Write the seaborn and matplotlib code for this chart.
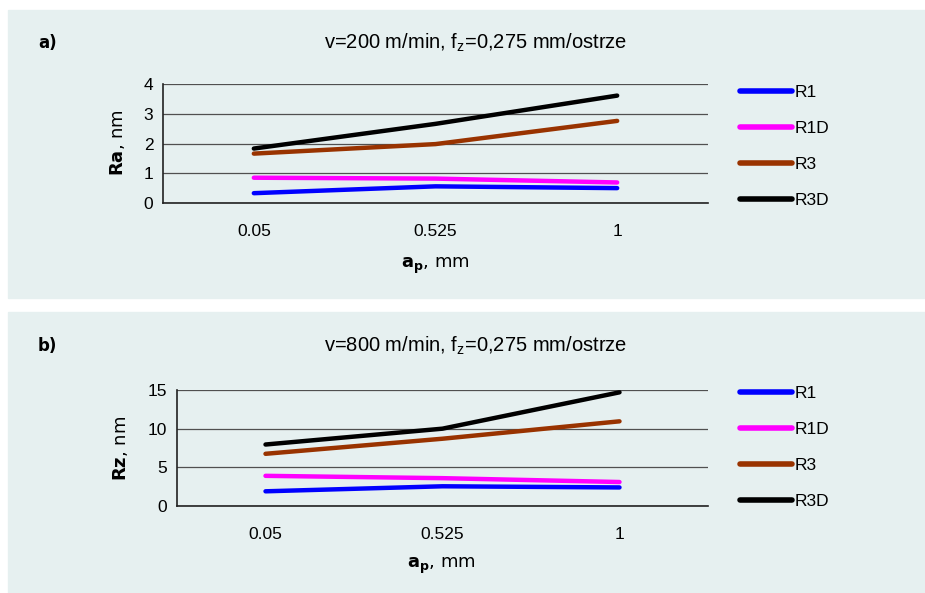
import pandas as pd
import matplotlib
matplotlib.use("Agg")
import matplotlib.pyplot as plt
import seaborn as sns
from matplotlib.patches import Rectangle
from matplotlib.ticker import FixedLocator

# dane
ap_labels = ["0.05", "0.525", "1"]
series = ["R1", "R1D", "R3", "R3D"]

ra_r1 = [0.33, 0.56, 0.50]
ra_r1d = [0.85, 0.82, 0.69]
ra_r3 = [1.66, 1.98, 2.76]
ra_r3d = [1.83, 2.66, 3.61]

rz_r1 = [1.9, 2.55, 2.4]
rz_r1d = [3.9, 3.6, 3.1]
rz_r3 = [6.75, 8.7, 10.95]
rz_r3d = [7.95, 10.0, 14.7]

colors = ["#0000FF", "#FF00FF", "#993300", "#000000"]
bg = "#E6F0F0"


def make_df(vals):
    rows = []
    for name, v in zip(series, vals):
        for lab, y in zip(ap_labels, v):
            rows.append({"ap": lab, "val": y, "seria": name})
    return pd.DataFrame(rows)


sns.set_style("white")
plt.rcParams["font.family"] = ["Liberation Sans", "DejaVu Sans"]
plt.rcParams["text.color"] = "black"
plt.rcParams["xtick.color"] = "black"
plt.rcParams["ytick.color"] = "black"
plt.rcParams["mathtext.fontset"] = "dejavusans"

fig = plt.figure(figsize=(9.25, 5.93), dpi=100)
fig.patches.append(Rectangle((8 / 925, 1 - 298 / 593), 1, 288 / 593,
                             transform=fig.transFigure, color=bg, zorder=-10))
fig.patches.append(Rectangle((8 / 925, 0), 1, 1 - 312 / 593,
                             transform=fig.transFigure, color=bg, zorder=-10))

panels = [
    dict(rect=[163 / 925, 1 - 203 / 593, 545 / 925, 119 / 593],
         df=make_df([ra_r1, ra_r1d, ra_r3, ra_r3d]), ylim=(0, 4), yt=[0, 1, 2, 3, 4],
         ylab=r"$\mathbf{Ra}$, nm", tag="a)", title_v="200",
         tag_y=43, xl_y=266, xl_x=435, yl_x=117, yl_y=143, leg_top=69),
    dict(rect=[177 / 925, 1 - 506 / 593, 531 / 925, 116 / 593],
         df=make_df([rz_r1, rz_r1d, rz_r3, rz_r3d]), ylim=(0, 15), yt=[0, 5, 10, 15],
         ylab=r"$\mathbf{Rz}$, nm", tag="b)", title_v="800",
         tag_y=346, xl_y=566, xl_x=441, yl_x=120, yl_y=448, leg_top=370),
]

for p in panels:
    ax = fig.add_axes(p["rect"])
    ax.set_facecolor("none")
    sns.lineplot(data=p["df"], x="ap", y="val", hue="seria", palette=colors,
                 linewidth=3.2, sort=False, ax=ax, legend=True)
    ax.set_xlim(-0.5, 2.5)
    ax.set_ylim(*p["ylim"])
    ax.set_yticks(p["yt"])
    ax.set_xticks([0, 1, 2])
    ax.set_xticklabels(ap_labels)
    ax.xaxis.set_minor_locator(FixedLocator([-0.5, 0.5, 1.5, 2.5]))
    ax.tick_params(axis="x", which="major", length=0, pad=15, labelsize=12.5)
    ax.tick_params(axis="x", which="minor", length=6, width=1, color="#222222", direction="out")
    ax.tick_params(axis="y", length=4, width=1, color="#222222", labelsize=12.5, pad=3)
    ax.grid(axis="y", color="#505050", linewidth=0.9)
    ax.set_axisbelow(True)
    for s in ["top", "right"]:
        ax.spines[s].set_visible(False)
    for s in ["left", "bottom"]:
        ax.spines[s].set_color("#222222")
        ax.spines[s].set_linewidth(1.2)
    ax.set_xlabel("")
    ax.set_ylabel("")

    h, l = ax.get_legend_handles_labels()
    for hh in h:
        hh.set_linewidth(4)
    ax.legend(h, l, loc="upper left", bbox_to_anchor=(724 / 925, 1 - p["leg_top"] / 593),
              bbox_transform=fig.transFigure, frameon=False, fontsize=12.5,
              handlelength=3.0, handletextpad=0.15, labelspacing=1.2)

    fig.text(38 / 925, 1 - p["tag_y"] / 593, p["tag"], fontsize=12, fontweight="bold",
             family="DejaVu Sans", va="center")
    fig.text(476 / 925, 1 - p["tag_y"] / 593,
             "v=" + p["title_v"] + " m/min, f$_\\mathregular{z}$=0,275 mm/ostrze",
             fontsize=14.5, ha="center", va="center")
    fig.text(p["xl_x"] / 925, 1 - p["xl_y"] / 593, r"$\mathbf{a_p}$, mm",
             fontsize=13, ha="center", va="center", family="DejaVu Sans")
    fig.text(p["yl_x"] / 925, 1 - p["yl_y"] / 593, p["ylab"], fontsize=13,
             rotation=90, ha="center", va="center", family="DejaVu Sans")

fig.savefig("out.png", dpi=100, facecolor="white")
